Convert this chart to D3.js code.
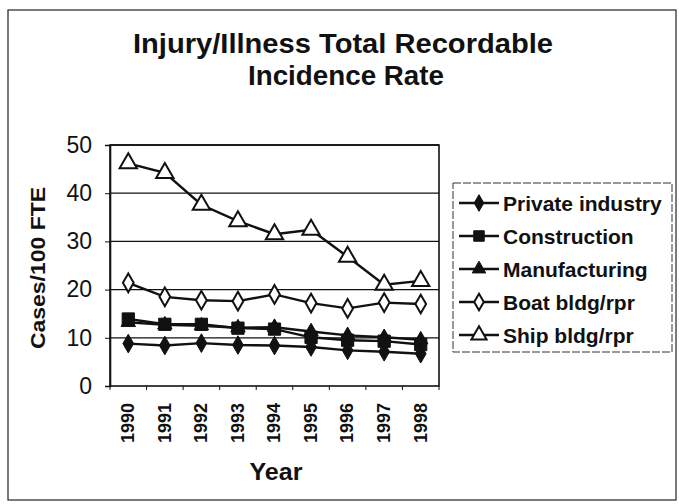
<!DOCTYPE html>
<html><head><meta charset="utf-8">
<script src="https://cdn.jsdelivr.net/npm/d3@7"></script>
<style>body{margin:0;background:#fff}svg{display:block}text{font-family:"Liberation Sans",Arial,sans-serif;fill:#111}</style>
</head><body><svg id="c" width="679" height="504"></svg>
<script>
const years = ["1990","1991","1992","1993","1994","1995","1996","1997","1998"];
const privateIndustry = [8.8, 8.4, 8.9, 8.5, 8.4, 8.1, 7.4, 7.1, 6.7];
const construction = [13.9, 12.8, 12.8, 12.0, 11.8, 10.1, 9.5, 9.3, 8.6];
const manufacturing = [13.2, 12.7, 12.5, 12.1, 12.2, 11.3, 10.5, 10.1, 9.6];
const boatBldg = [21.4, 18.5, 17.8, 17.6, 19.0, 17.2, 16.1, 17.3, 17.0];
const shipBldg = [46.2, 44.2, 37.6, 34.2, 31.5, 32.4, 26.8, 21.0, 21.8];
const seriesNames = ["Private industry","Construction","Manufacturing","Boat bldg/rpr","Ship bldg/rpr"];
const yTicks = [0,10,20,30,40,50];

const series = [
  {name: seriesNames[0], values: privateIndustry, shape: d3.symbolDiamond, fill: true},
  {name: seriesNames[1], values: construction, shape: d3.symbolSquare, fill: true},
  {name: seriesNames[2], values: manufacturing, shape: d3.symbolTriangle, fill: true},
  {name: seriesNames[3], values: boatBldg, shape: d3.symbolDiamond, fill: false},
  {name: seriesNames[4], values: shipBldg, shape: d3.symbolTriangle, fill: false}
];

const svg = d3.select("#c");
const L = 110, R = 439, T = 145, B = 386;

// outer border
svg.append("rect").attr("x",8).attr("y",10).attr("width",668).attr("height",490)
  .attr("fill","none").attr("stroke","#222").attr("stroke-width",1.2);

// title
svg.append("text").attr("x",343).attr("y",53).attr("text-anchor","middle")
  .attr("font-size",27).attr("font-weight","bold")
  .attr("textLength",420).attr("lengthAdjust","spacingAndGlyphs").text("Injury/Illness Total Recordable");
svg.append("text").attr("x",346).attr("y",85).attr("text-anchor","middle")
  .attr("font-size",27).attr("font-weight","bold")
  .attr("textLength",196).attr("lengthAdjust","spacingAndGlyphs").text("Incidence Rate");

const x = d3.scalePoint().domain(years).range([L, R]).padding(0.5);
const y = d3.scaleLinear().domain([0,50]).range([B, T]);

// gridlines
svg.append("g").selectAll("line").data(yTicks.filter(t=>t>0)).join("line")
  .attr("x1",L).attr("x2",R).attr("y1",d=>y(d)).attr("y2",d=>y(d))
  .attr("stroke","#111").attr("stroke-width",1.3);

// plot border
svg.append("rect").attr("x",L).attr("y",T).attr("width",R-L).attr("height",B-T)
  .attr("fill","none").attr("stroke","#111").attr("stroke-width",1.6);

// y axis
const yAxis = svg.append("g").attr("transform",`translate(${L},0)`)
  .call(d3.axisLeft(y).tickValues(yTicks).tickSize(5).tickPadding(13));
yAxis.select(".domain").attr("stroke","#111").attr("stroke-width",1.6);
yAxis.selectAll("line").attr("stroke","#111");
yAxis.selectAll("text").attr("font-size",23).attr("fill","#111").attr("font-family","\"Liberation Sans\",Arial,sans-serif");

// x axis
const band = (R-L)/years.length;
const xAxis = svg.append("g").attr("transform",`translate(0,${B})`)
  .call(d3.axisBottom(x).tickSize(0).tickPadding(0));
xAxis.select(".domain").remove();
xAxis.selectAll(".tick text").attr("font-size",18).attr("font-weight","bold")
  .attr("font-family","\"Liberation Sans\",Arial,sans-serif")
  .attr("transform","rotate(-90)").attr("text-anchor","end").attr("dy","0.35em").attr("y",-1).attr("x",-17);
// category boundary ticks
svg.append("g").selectAll("line").data(d3.range(years.length+1)).join("line")
  .attr("x1",d=>L+d*band).attr("x2",d=>L+d*band).attr("y1",B).attr("y2",B+4)
  .attr("stroke","#111").attr("stroke-width",1);

// axis titles
svg.append("text").attr("transform","translate(45,268) rotate(-90)").attr("text-anchor","middle")
  .attr("font-size",20).attr("font-weight","bold")
  .attr("textLength",162).attr("lengthAdjust","spacingAndGlyphs").text("Cases/100 FTE");
svg.append("text").attr("x",276).attr("y",480).attr("text-anchor","middle")
  .attr("font-size",23).attr("font-weight","bold")
  .attr("textLength",53).attr("lengthAdjust","spacingAndGlyphs").text("Year");

// lines and markers
const line = d3.line().x((d,i)=>x(years[i])).y(d=>y(d));
[4,3,2,1,0].forEach(si=>{
  const s = series[si];
  svg.append("path").datum(s.values).attr("d",line).attr("fill","none")
    .attr("stroke","#111").attr("stroke-width",2.4);
  const sz = s.fill ? (s.shape===d3.symbolSquare?150:(s.shape===d3.symbolTriangle?90:100)) : (s.shape===d3.symbolTriangle?130:100);
  svg.append("g").selectAll("path").data(s.values).join("path")
    .attr("transform",(d,i)=>`translate(${x(years[i])},${y(d)})`)
    .attr("d",d3.symbol().type(s.shape).size(sz)())
    .attr("fill",s.fill?"#111":"#fff").attr("stroke","#111").attr("stroke-width",s.fill?1:2);
});

// legend
const lg = svg.append("g");
lg.append("rect").attr("x",453).attr("y",183).attr("width",219).attr("height",169)
  .attr("fill","#fff").attr("stroke","#333").attr("stroke-width",1).attr("stroke-dasharray","8,2");
series.forEach((s,i)=>{
  const yy = 203 + i*33;
  lg.append("line").attr("x1",459).attr("x2",499).attr("y1",yy).attr("y2",yy)
    .attr("stroke","#111").attr("stroke-width",2.4);
  const sz = s.fill ? (s.shape===d3.symbolSquare?110:(s.shape===d3.symbolTriangle?80:80)) : (s.shape===d3.symbolTriangle?100:80);
  lg.append("path").attr("transform",`translate(479,${yy})`)
    .attr("d",d3.symbol().type(s.shape).size(sz)())
    .attr("fill",s.fill?"#111":"#fff").attr("stroke","#111").attr("stroke-width",s.fill?1:2);
  lg.append("text").attr("x",503).attr("y",yy).attr("dy","0.36em")
    .attr("font-size",21).attr("font-weight","bold").text(s.name);
});
</script></body></html>
